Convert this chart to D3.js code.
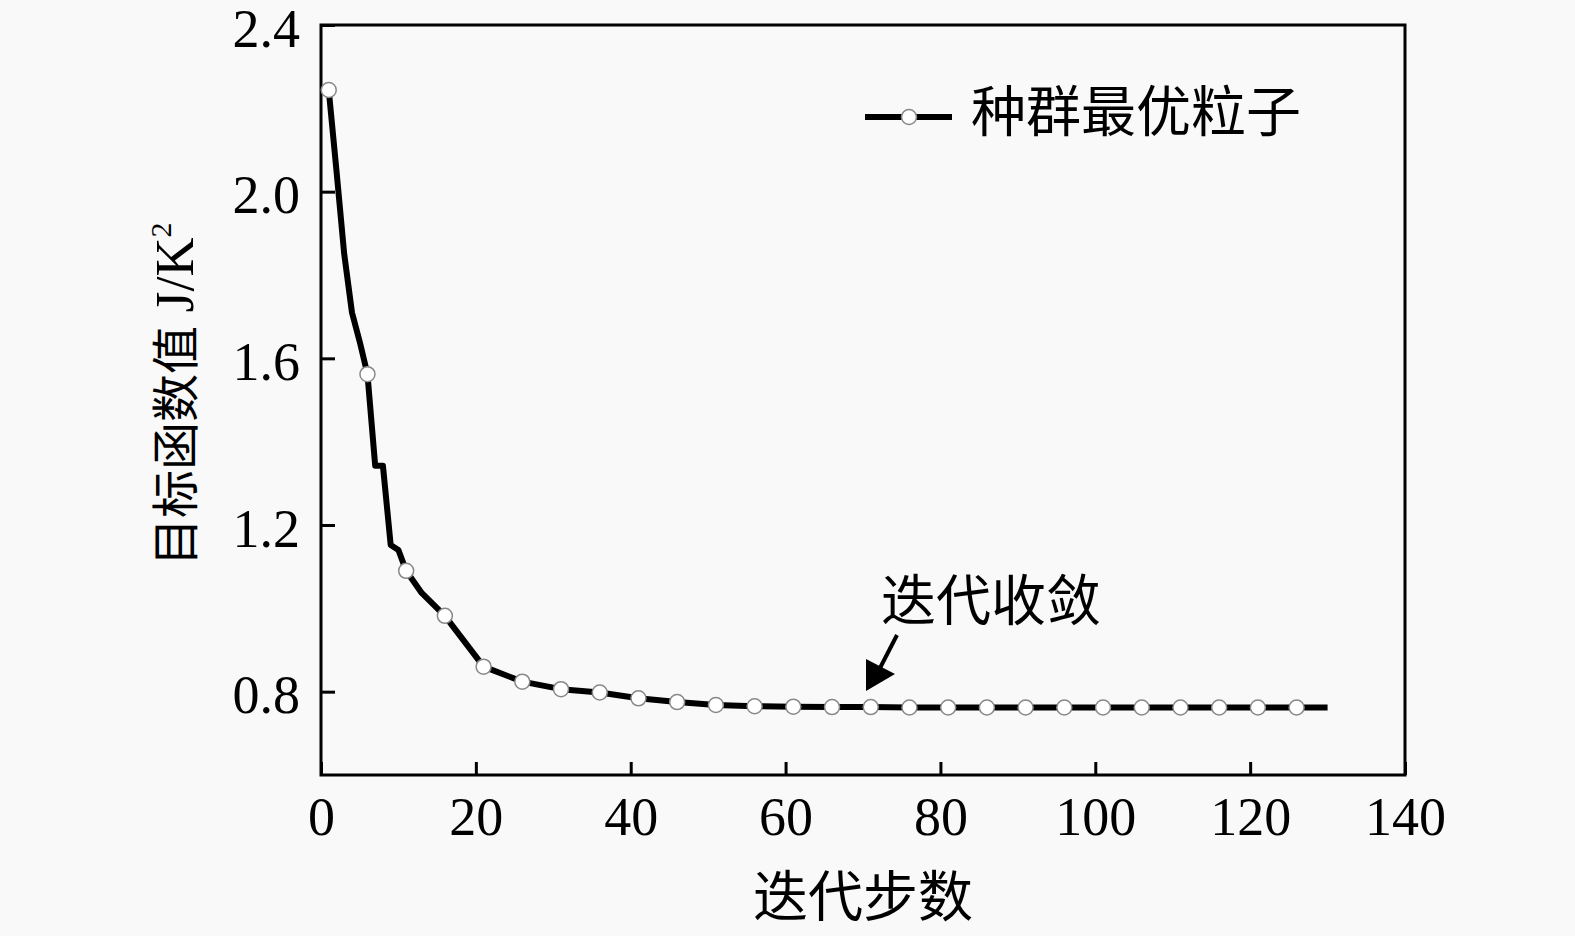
<!DOCTYPE html>
<html>
<head>
<meta charset="utf-8">
<script src="https://cdn.jsdelivr.net/npm/d3@7"></script>
<style>
  body { margin: 0; background: #f9f9f9; }
  svg { display: block; }
</style>
</head>
<body>
<div class="container"></div>
<script>
var w = 1575;
var h = 936;

// iteration steps and best-particle objective value
var steps = [1, 2, 3, 4, 5, 6, 7, 8, 9, 10, 11, 13, 16, 21, 26, 31, 36, 41, 46, 51, 56, 61,
             66, 71, 76, 81, 86, 91, 96, 101, 106, 111, 116, 121, 126, 130];
var values = [2.244, 2.05, 1.85, 1.71, 1.64, 1.562, 1.342, 1.342, 1.152, 1.14, 1.09, 1.037, 0.982,
              0.86, 0.824, 0.806, 0.798, 0.784, 0.775, 0.768, 0.765, 0.764,
              0.763, 0.763, 0.762, 0.762, 0.762, 0.762, 0.762, 0.762, 0.762, 0.762, 0.762, 0.762, 0.762, 0.762];
// markers are drawn every 5 steps starting at step 1
var markerSteps = [1, 6, 11, 16, 21, 26, 31, 36, 41, 46, 51, 56, 61, 66, 71, 76, 81, 86, 91, 96,
                   101, 106, 111, 116, 121, 126];

var xTicks = [0, 20, 40, 60, 80, 100, 120, 140];
var yTicks = [0.8, 1.2, 1.6, 2.0, 2.4];
var xTitle = "迭代步数";
var yTitle = "目标函数值";
var yUnit = "J/K";
var legendLabel = "种群最优粒子";
var noteLabel = "迭代收敛";

var serif = "'Liberation Serif', 'Times New Roman', serif";
var cjk = "'Noto Sans CJK SC', sans-serif";

var x = d3.scaleLinear().domain([0, 140]).range([321, 1405]);
var y = d3.scaleLinear().domain([0.6, 2.4]).range([775, 25]);

var svg = d3.select(".container").append("svg").attr("width", w).attr("height", h);
svg.append("rect").attr("width", w).attr("height", h).attr("fill", "#f9f9f9");

// axes with inward ticks
var xAxis = svg.append("g").attr("transform", "translate(0," + y.range()[0] + ")")
  .call(d3.axisBottom(x).tickValues(xTicks).tickSizeInner(-13).tickSizeOuter(0).tickFormat(d3.format("d")));
xAxis.selectAll("text").attr("y", 60).attr("dy", 0);

var yAxis = svg.append("g").attr("transform", "translate(" + x.range()[0] + ",0)")
  .call(d3.axisLeft(y).tickValues(yTicks).tickSizeInner(-14).tickSizeOuter(0).tickFormat(d3.format(".1f")));
yAxis.selectAll("text").attr("x", -21).attr("dy", 0).attr("y", 21);

svg.selectAll(".domain").remove();
svg.selectAll(".tick line").attr("stroke", "#000").attr("stroke-width", 3);
svg.selectAll(".tick text").attr("fill", "#000").style("font-family", serif).style("font-size", "54px");

// frame
svg.append("rect")
  .attr("x", x.range()[0]).attr("y", y.range()[1])
  .attr("width", x.range()[1] - x.range()[0]).attr("height", y.range()[0] - y.range()[1])
  .attr("fill", "none").attr("stroke", "#000").attr("stroke-width", 3);

// series
var pts = steps.map(function(d, i) { return [d, values[i]]; });
var line = d3.line().x(function(d) { return x(d[0]); }).y(function(d) { return y(d[1]); });
svg.append("path").datum(pts).attr("d", line)
  .attr("fill", "none").attr("stroke", "#000").attr("stroke-width", 6).attr("stroke-linejoin", "round");

svg.selectAll("circle.mk").data(markerSteps).enter().append("circle")
  .attr("class", "mk")
  .attr("cx", function(d) { return x(d); })
  .attr("cy", function(d) { return y(values[steps.indexOf(d)]); })
  .attr("r", 7.5)
  .attr("fill", "#fff").attr("stroke", "#888").attr("stroke-width", 1.5);

// legend
var lg = svg.append("g");
lg.append("line").attr("x1", 865).attr("x2", 952).attr("y1", 117).attr("y2", 117)
  .attr("stroke", "#000").attr("stroke-width", 6);
lg.append("circle").attr("cx", 909).attr("cy", 117).attr("r", 7.5)
  .attr("fill", "#fff").attr("stroke", "#888").attr("stroke-width", 1.5);
lg.append("text").attr("x", 971).attr("y", 131).text(legendLabel)
  .style("font-family", cjk).style("font-size", "55px").attr("fill", "#000");

// annotation
svg.append("text").attr("x", 881).attr("y", 620).text(noteLabel)
  .style("font-family", cjk).style("font-size", "55px").attr("fill", "#000");
svg.append("line").attr("x1", 897).attr("y1", 635).attr("x2", 880).attr("y2", 668)
  .attr("stroke", "#000").attr("stroke-width", 4);
svg.append("path").attr("d", "M866,691 L866,659 L895,674 Z").attr("fill", "#000");

// axis titles
svg.append("text").attr("x", 863).attr("y", 916).attr("text-anchor", "middle").text(xTitle)
  .style("font-family", cjk).style("font-size", "55px").attr("fill", "#000");

var yt = svg.append("text").attr("transform", "translate(193,566) rotate(-90)")
  .attr("fill", "#000");
yt.append("tspan").text(yTitle).style("font-family", cjk).style("font-size", "48px");
yt.append("tspan").text(" " + yUnit).style("font-family", serif).style("font-size", "54px");
yt.append("tspan").text("2").attr("dy", -22).style("font-family", serif).style("font-size", "30px");
</script>
</body>
</html>
